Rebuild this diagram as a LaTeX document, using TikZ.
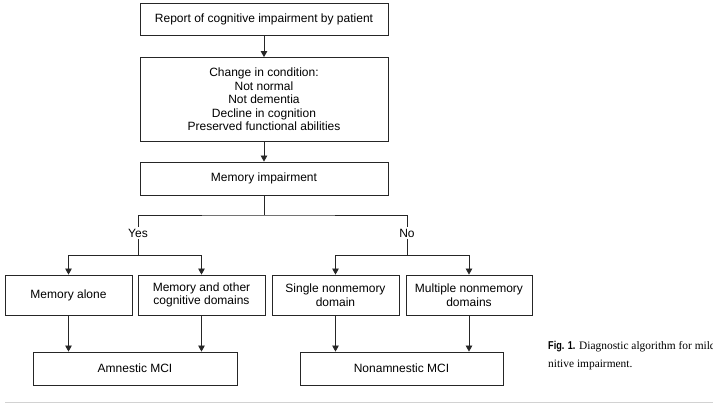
\documentclass[tikz,border=0pt]{standalone}
\usepackage{fontspec}
\setmainfont{Liberation Sans}
\newfontfamily\capserif{Liberation Serif}
\newfontfamily\figlabel[FakeStretch=0.8]{Liberation Sans}
\usetikzlibrary{arrows.meta}

\tikzset{
  box/.style={draw=black!85, line width=0.8pt, align=center, inner sep=2pt,
    font=\fontsize{12}{13.5}\selectfont},
  arr/.style={draw=black!85, line width=0.8pt, -{Triangle[length=6pt,width=6.5pt]}},
  link/.style={draw=black!85, line width=0.8pt},
  lbl/.style={font=\fontsize{12}{13.5}\selectfont, inner sep=1.5pt}
}

\begin{document}
\begin{tikzpicture}[x=1pt, y=-1pt]
        \useasboundingbox (0,0) rectangle (713,406);

        % Upper chain
        \node[box, minimum width=248pt, minimum height=32pt] (report) at (264,19) {Report of cognitive impairment by patient};
        \node[box, minimum width=248pt, minimum height=84pt] (change) at (264,99.5) {Change in condition:\\Not normal\\Not dementia\\Decline in cognition\\Preserved functional abilities};
        \node[box, minimum width=248pt, minimum height=33pt] (memory) at (264,178.5) {Memory impairment};

        % Yes / No split
        \coordinate (split) at (264,215);
        \node[lbl] (yes) at (138,233) {Yes};
        \node[lbl] (no) at (407,233) {No};
        \coordinate (yesfork) at (138,255);
        \coordinate (nofork) at (407,255);

        % Middle row
        \node[box, minimum width=127pt, minimum height=40pt] (alone) at (68.5,295) {Memory alone};
        \node[box, minimum width=127pt, minimum height=40pt] (other) at (201.5,295) {Memory and other\\cognitive domains};
        \node[box, minimum width=127pt, minimum height=40pt] (single) at (335.5,295) {Single nonmemory\\domain};
        \node[box, minimum width=126pt, minimum height=40pt] (multiple) at (469,295) {Multiple nonmemory\\domains};

        % Outcomes
        \node[box, minimum width=204pt, minimum height=33pt] (amnestic) at (135,368.5) {Amnestic MCI};
        \node[box, minimum width=203pt, minimum height=33pt] (nonamnestic) at (401.5,368.5) {Nonamnestic MCI};

        % Connectors
        \draw[arr] (report) -- (change);
        \draw[arr] (change) -- (memory);
        \draw[link] (memory.south) -- (split);
        \draw[link] (yes.north) |- (split) -| (no.north);
        \draw[link] (yes.south) -- (yesfork);
        \draw[link] (no.south) -- (nofork);
        \draw[arr] (yesfork) -| (alone.north);
        \draw[arr] (yesfork) -| (other.north);
        \draw[arr] (nofork) -| (single.north);
        \draw[arr] (nofork) -| (multiple.north);
        \draw[arr] (alone.south) -- (alone.south |- amnestic.north);
        \draw[arr] (other.south) -- (other.south |- amnestic.north);
        \draw[arr] (single.south) -- (single.south |- nonamnestic.north);
        \draw[arr] (multiple.south) -- (multiple.south |- nonamnestic.north);

        % Caption and rule
        \node[anchor=base west, align=left, inner sep=0pt, font=\capserif\fontsize{11.4}{18}\selectfont] (caption) at (548,368) {{\figlabel\bfseries Fig. 1.} Diagnostic algorithm for mild cog-\\nitive impairment.};
        \draw[gray!35, line width=0.8pt] (5,402) -- (713,402);
    \end{tikzpicture}
\end{document}
